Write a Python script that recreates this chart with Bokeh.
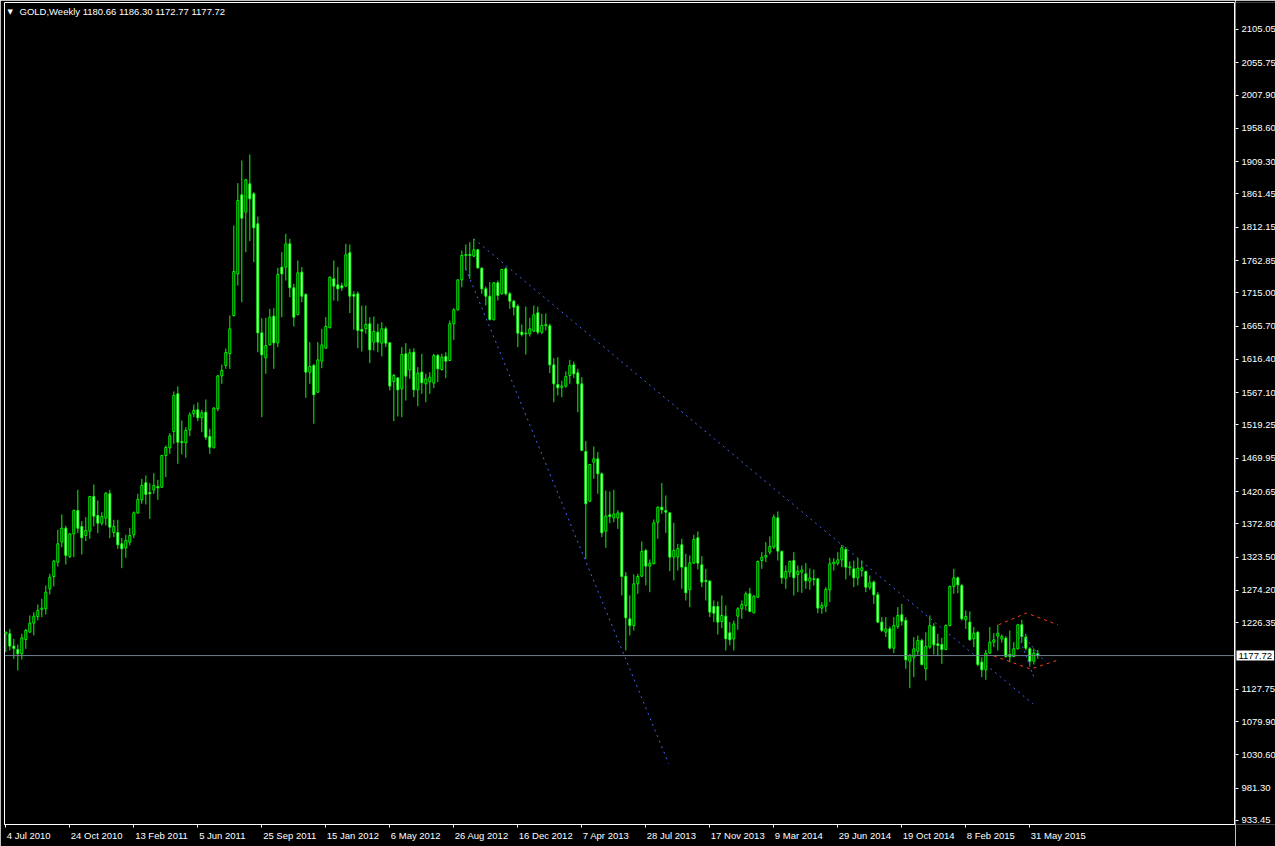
from bokeh.plotting import figure
from bokeh.layouts import row
from bokeh.models import Range1d, FixedTicker, Span, Label, ColumnDataSource, LinearAxis
from bokeh.embed import file_html
from bokeh.resources import INLINE

# ---------------- data (weekly GOLD, first bar = 4 Jul 2010) ----------------
opens = [1209.9, 1209.9, 1191.7, 1186.8, 1180.3, 1201.5, 1212.4, 1225.8, 1235.6, 1246.2,
         1247.0, 1276.6, 1294.8, 1316.0, 1345.7, 1366.4, 1324.5, 1358.0, 1392.5, 1368.9,
         1355.6, 1362.0, 1413.3, 1385.2, 1373.8, 1381.2, 1417.3, 1360.0, 1360.0, 1343.3,
         1337.3, 1345.7, 1356.6, 1388.7, 1408.4, 1433.6, 1419.3, 1423.2, 1428.1, 1427.1,
         1474.1, 1485.4, 1509.6, 1565.4, 1494.8, 1492.8, 1512.1, 1535.8, 1541.7, 1529.9,
         1538.2, 1502.2, 1485.4, 1543.2, 1592.0, 1607.4, 1625.0, 1681.4, 1743.0, 1860.1,
         1834.5, 1876.4, 1861.6, 1817.2, 1655.7, 1618.7, 1637.9, 1680.4, 1640.9, 1753.0,
         1753.0, 1787.5, 1722.4, 1682.9, 1745.6, 1712.5, 1597.5, 1607.4, 1567.8, 1613.8,
         1633.0, 1663.2, 1735.7, 1726.8, 1725.4, 1724.9, 1774.2, 1712.5, 1713.5, 1660.7,
         1661.7, 1669.1, 1641.9, 1656.7, 1640.4, 1661.7, 1640.9, 1583.6, 1589.0, 1572.8,
         1624.6, 1600.9, 1627.1, 1571.3, 1597.5, 1580.2, 1583.1, 1581.2, 1622.1, 1601.4,
         1620.7, 1614.8, 1669.1, 1689.8, 1734.2, 1770.3, 1771.8, 1769.3, 1778.7, 1751.5,
         1720.9, 1710.0, 1675.0, 1729.8, 1713.5, 1750.5, 1713.5, 1702.6, 1695.2, 1656.7,
         1655.2, 1654.3, 1658.2, 1685.4, 1656.7, 1666.1, 1666.1, 1608.3, 1579.2, 1575.0,
         1576.8, 1592.5, 1608.3, 1596.5, 1580.2, 1479.9, 1406.4, 1464.2, 1469.1, 1446.9,
         1362.0, 1386.2, 1381.7, 1381.7, 1389.1, 1295.3, 1232.1, 1222.3, 1284.0, 1295.3,
         1333.4, 1310.2, 1313.6, 1375.3, 1397.5, 1392.6, 1389.1, 1323.5, 1324.0, 1341.8,
         1308.7, 1275.1, 1314.6, 1352.1, 1312.1, 1288.9, 1288.0, 1250.4, 1250.4, 1228.2,
         1236.1, 1211.4, 1202.4, 1236.1, 1247.0, 1251.9, 1269.2, 1241.1, 1264.2, 1318.6,
         1323.5, 1330.9, 1338.3, 1381.7, 1331.9, 1292.4, 1301.3, 1318.5, 1297.8, 1301.3,
         1298.8, 1287.9, 1291.4, 1291.4, 1248.0, 1250.9, 1275.1, 1313.6, 1314.6, 1319.5,
         1334.8, 1307.7, 1306.2, 1292.9, 1303.7, 1302.2, 1279.0, 1286.5, 1267.7, 1227.2,
         1212.4, 1217.3, 1188.7, 1220.8, 1238.1, 1229.7, 1169.4, 1175.3, 1184.2, 1200.0,
         1158.1, 1190.2, 1220.8, 1195.1, 1194.1, 1186.7, 1222.3, 1280.0, 1292.9, 1281.5,
         1230.7, 1227.2, 1202.5, 1212.4, 1168.0, 1156.6, 1181.3, 1197.6, 1206.5, 1202.5,
         1203.5, 1179.3, 1176.3, 1187.7, 1223.3, 1205.0, 1187.7, 1169.4, 1180.66]
highs = [1213.0, 1217.3, 1202.5, 1194.0, 1209.9, 1217.3, 1237.1, 1242.0, 1253.4, 1261.8,
         1281.5, 1298.8, 1319.5, 1364.0, 1386.7, 1370.0, 1359.0, 1394.0, 1423.2, 1376.8,
         1382.7, 1414.3, 1431.1, 1407.4, 1390.1, 1419.7, 1423.2, 1378.8, 1378.8, 1352.1,
         1356.6, 1366.9, 1391.1, 1417.3, 1439.5, 1444.4, 1433.1, 1447.9, 1438.0, 1474.1,
         1488.9, 1507.1, 1568.9, 1576.3, 1525.9, 1516.0, 1538.2, 1549.6, 1552.6, 1541.7,
         1557.0, 1513.6, 1545.6, 1593.5, 1608.8, 1632.5, 1681.4, 1814.7, 1877.4, 1911.0,
         1883.8, 1919.9, 1864.0, 1828.0, 1677.4, 1677.9, 1691.3, 1692.3, 1752.0, 1775.2,
         1802.4, 1794.9, 1728.3, 1762.9, 1753.0, 1714.5, 1641.9, 1609.8, 1641.9, 1661.7,
         1678.9, 1739.2, 1762.9, 1753.0, 1730.0, 1787.5, 1786.6, 1717.4, 1716.9, 1696.2,
         1696.2, 1678.9, 1679.9, 1669.1, 1671.5, 1665.1, 1641.9, 1595.0, 1590.0, 1634.5,
         1640.4, 1632.0, 1633.0, 1604.9, 1624.6, 1595.0, 1597.5, 1624.6, 1624.6, 1624.6,
         1627.1, 1674.0, 1692.3, 1734.7, 1777.7, 1786.6, 1790.0, 1795.0, 1780.1, 1753.0,
         1724.4, 1730.8, 1730.8, 1733.2, 1750.5, 1753.0, 1716.0, 1704.6, 1698.0, 1668.1,
         1694.7, 1678.0, 1696.2, 1694.7, 1683.9, 1684.4, 1669.1, 1618.2, 1619.7, 1585.0,
         1598.5, 1615.7, 1613.3, 1602.4, 1590.0, 1495.3, 1461.7, 1487.4, 1479.0, 1448.9,
         1422.2, 1420.7, 1423.2, 1393.0, 1391.1, 1301.3, 1266.7, 1297.8, 1298.8, 1346.7,
         1335.8, 1320.0, 1379.2, 1398.5, 1433.1, 1414.8, 1390.1, 1374.3, 1343.2, 1350.6,
         1328.4, 1326.0, 1356.6, 1361.5, 1324.9, 1306.2, 1289.0, 1259.3, 1257.8, 1266.7,
         1251.9, 1227.2, 1229.5, 1249.4, 1259.3, 1272.6, 1278.0, 1266.7, 1318.6, 1330.9,
         1345.7, 1354.1, 1386.7, 1391.1, 1333.4, 1311.1, 1318.5, 1330.9, 1311.1, 1311.1,
         1314.6, 1306.7, 1305.2, 1292.4, 1256.8, 1279.0, 1322.5, 1322.0, 1330.9, 1341.7,
         1338.3, 1317.0, 1318.5, 1322.0, 1318.5, 1303.7, 1296.3, 1288.9, 1271.6, 1234.6,
         1234.6, 1220.8, 1234.6, 1249.4, 1254.3, 1234.6, 1180.3, 1205.0, 1207.5, 1202.5,
         1212.4, 1237.1, 1225.7, 1209.9, 1204.0, 1223.8, 1281.5, 1306.2, 1294.8, 1284.0,
         1244.5, 1243.0, 1219.8, 1213.4, 1175.3, 1186.2, 1219.8, 1210.9, 1223.3, 1209.0,
         1206.5, 1214.9, 1197.6, 1224.7, 1230.7, 1209.9, 1190.2, 1188.2, 1186.30]
lows = [1182.7, 1185.3, 1172.9, 1155.6, 1171.9, 1187.7, 1212.0, 1207.5, 1229.7, 1234.6,
        1238.6, 1268.2, 1280.0, 1309.6, 1338.3, 1312.6, 1322.0, 1323.5, 1359.0, 1327.4,
        1347.2, 1350.6, 1368.9, 1359.0, 1370.4, 1370.4, 1351.6, 1353.1, 1335.8, 1307.2,
        1322.5, 1340.8, 1351.6, 1388.0, 1402.5, 1401.5, 1380.2, 1417.3, 1408.4, 1426.0,
        1442.0, 1476.5, 1491.4, 1461.7, 1475.6, 1470.6, 1502.7, 1530.9, 1524.9, 1508.6,
        1497.3, 1476.5, 1484.9, 1539.7, 1580.2, 1602.4, 1602.4, 1679.9, 1725.8, 1701.1,
        1775.2, 1791.5, 1760.4, 1627.1, 1530.8, 1595.0, 1637.0, 1602.4, 1634.5, 1678.9,
        1733.2, 1708.5, 1665.1, 1681.4, 1701.1, 1559.4, 1580.2, 1521.0, 1566.9, 1603.4,
        1632.0, 1662.7, 1703.6, 1702.6, 1718.0, 1723.4, 1684.9, 1660.2, 1633.0, 1628.0,
        1654.3, 1610.8, 1629.5, 1627.1, 1620.7, 1634.5, 1570.3, 1524.9, 1531.8, 1530.8,
        1555.5, 1587.6, 1560.4, 1547.1, 1565.4, 1553.0, 1565.4, 1573.8, 1582.7, 1600.0,
        1588.6, 1613.8, 1645.4, 1688.8, 1723.4, 1749.1, 1735.7, 1767.8, 1750.5, 1713.5,
        1696.2, 1674.0, 1674.5, 1703.6, 1712.5, 1711.0, 1691.3, 1681.4, 1634.5, 1650.3,
        1623.6, 1650.3, 1656.7, 1653.3, 1654.0, 1659.2, 1596.0, 1553.0, 1562.9, 1560.4,
        1574.3, 1580.2, 1588.6, 1538.2, 1480.5, 1321.0, 1405.0, 1439.5, 1417.3, 1353.1,
        1337.3, 1373.8, 1375.3, 1365.4, 1266.7, 1185.3, 1207.5, 1214.9, 1269.2, 1293.9,
        1281.5, 1271.6, 1313.0, 1350.6, 1387.6, 1359.5, 1302.7, 1289.0, 1303.7, 1276.6,
        1259.3, 1249.4, 1313.6, 1305.2, 1279.0, 1259.3, 1234.6, 1227.2, 1208.9, 1218.3,
        1185.3, 1192.7, 1185.3, 1215.9, 1232.1, 1244.5, 1242.0, 1240.0, 1263.5, 1306.2,
        1316.1, 1327.4, 1335.8, 1318.5, 1284.0, 1276.6, 1293.9, 1266.7, 1271.6, 1270.6,
        1276.6, 1275.1, 1281.5, 1240.5, 1239.5, 1242.0, 1256.8, 1303.7, 1311.1, 1308.7,
        1290.4, 1296.3, 1279.0, 1281.5, 1294.8, 1271.6, 1275.1, 1254.3, 1225.7, 1212.4,
        1205.0, 1187.0, 1181.3, 1217.3, 1222.3, 1158.1, 1129.4, 1145.8, 1177.8, 1163.0,
        1140.8, 1187.7, 1179.3, 1177.8, 1165.5, 1185.7, 1220.8, 1269.2, 1270.1, 1229.7,
        1217.3, 1200.0, 1190.2, 1162.0, 1145.8, 1141.8, 1180.3, 1190.2, 1185.2, 1197.0,
        1174.4, 1167.9, 1175.3, 1186.7, 1197.6, 1185.2, 1163.0, 1164.5, 1172.77]
closes = [1212.4, 1191.7, 1188.2, 1180.3, 1204.0, 1214.9, 1225.8, 1236.1, 1244.5, 1247.9,
          1271.6, 1293.8, 1317.6, 1343.3, 1366.4, 1326.0, 1358.0, 1392.5, 1366.4, 1352.1,
          1363.0, 1413.3, 1384.2, 1373.8, 1383.7, 1418.3, 1367.9, 1368.9, 1341.8, 1335.8,
          1348.2, 1355.6, 1389.2, 1408.9, 1429.6, 1416.3, 1417.3, 1429.6, 1426.1, 1474.1,
          1485.9, 1503.2, 1562.9, 1493.8, 1493.3, 1511.1, 1534.3, 1540.7, 1529.9, 1537.3,
          1501.2, 1486.4, 1544.2, 1592.0, 1600.0, 1626.6, 1661.7, 1746.6, 1851.7, 1825.6,
          1882.4, 1854.2, 1811.2, 1655.7, 1623.1, 1636.9, 1678.9, 1640.9, 1742.1, 1743.1,
          1787.5, 1722.4, 1678.9, 1744.6, 1710.0, 1597.5, 1605.9, 1563.9, 1615.7, 1637.9,
          1665.1, 1738.2, 1724.9, 1720.9, 1722.4, 1771.3, 1710.0, 1710.0, 1659.2, 1658.2,
          1668.1, 1630.5, 1657.7, 1641.9, 1661.7, 1640.4, 1576.8, 1592.5, 1571.3, 1623.6,
          1591.5, 1626.1, 1571.3, 1596.0, 1581.7, 1587.6, 1590.0, 1622.1, 1602.4, 1619.7,
          1613.8, 1669.1, 1689.8, 1734.2, 1770.3, 1771.8, 1770.3, 1778.7, 1752.0, 1720.9,
          1710.0, 1675.5, 1729.8, 1711.0, 1749.5, 1713.5, 1702.6, 1693.7, 1655.2, 1653.3,
          1654.3, 1661.7, 1682.4, 1656.7, 1666.6, 1668.1, 1608.3, 1580.2, 1574.3, 1577.0,
          1591.0, 1607.4, 1595.0, 1580.2, 1481.5, 1402.5, 1460.7, 1469.1, 1446.9, 1359.5,
          1384.2, 1383.7, 1387.6, 1389.1, 1294.8, 1233.6, 1222.3, 1284.0, 1294.8, 1331.9,
          1310.2, 1314.6, 1374.3, 1397.5, 1393.6, 1390.1, 1323.5, 1333.4, 1336.0, 1308.7,
          1270.7, 1315.1, 1349.6, 1314.6, 1286.5, 1287.5, 1242.0, 1240.5, 1227.2, 1237.1,
          1202.5, 1201.0, 1224.6, 1247.0, 1253.4, 1269.2, 1243.0, 1265.7, 1317.1, 1323.5,
          1326.0, 1339.3, 1382.7, 1332.4, 1292.9, 1302.2, 1317.0, 1292.9, 1302.7, 1304.3,
          1288.4, 1292.4, 1290.4, 1248.0, 1252.0, 1275.6, 1313.6, 1316.1, 1319.5, 1337.3,
          1308.7, 1309.2, 1292.9, 1307.2, 1307.7, 1279.0, 1285.5, 1267.7, 1227.2, 1214.9,
          1217.3, 1188.7, 1222.3, 1237.1, 1228.7, 1171.4, 1177.8, 1187.7, 1200.0, 1164.5,
          1191.2, 1222.3, 1193.6, 1192.7, 1186.7, 1222.3, 1280.0, 1292.9, 1282.5, 1232.1,
          1235.6, 1201.0, 1210.9, 1164.5, 1156.6, 1181.3, 1197.6, 1201.0, 1210.9, 1205.9,
          1176.3, 1176.3, 1187.7, 1223.3, 1206.0, 1188.7, 1169.4, 1181.3, 1177.72]

# bottom axis: bar index of each date label and its text
date_tick_bars = [0, 16, 32, 48, 64, 80, 96, 112, 128, 144, 160, 176, 192, 208, 224, 240, 256]
date_tick_labels = ["4 Jul 2010", "24 Oct 2010", "13 Feb 2011", "5 Jun 2011", "25 Sep 2011",
                    "15 Jan 2012", "6 May 2012", "26 Aug 2012", "16 Dec 2012", "7 Apr 2013",
                    "28 Jul 2013", "17 Nov 2013", "9 Mar 2014", "29 Jun 2014", "19 Oct 2014",
                    "8 Feb 2015", "31 May 2015"]
# right axis price labels
price_ticks = [2105.05, 2055.75, 2007.90, 1958.60, 1909.30, 1861.45, 1812.15, 1762.85, 1715.00,
               1665.70, 1616.40, 1567.10, 1519.25, 1469.95, 1420.65, 1372.80, 1323.50, 1274.20,
               1226.35, 1127.75, 1079.90, 1030.60, 981.30, 933.45]

# drawn trend lines (bar index, price)
blue_long_bars = [117.0, 256.75]
blue_long_prices = [1795.0, 1106.3]
blue_steep_bars = [115.0, 165.7]
blue_steep_prices = [1750.6, 1017.8]
blue_short1_bars = [252.9, 257.0]
blue_short1_prices = [1212.3, 1145.7]
blue_short2_bars = [254.1, 259.75]
blue_short2_prices = [1209.0, 1168.9]
red_upper_bars = [248.2, 255.2, 263.0]
red_upper_prices = [1223.3, 1240.8, 1223.3]
red_lower_bars = [247.0, 256.2, 263.5]
red_lower_prices = [1177.1, 1157.8, 1171.9]

symbol_title = "GOLD,Weekly"

# ---------------- layout constants ----------------
TOTAL_W, TOTAL_H = 1275, 846
SCALE_W = 40                      # width of the price scale strip on the right
MAIN_W = TOTAL_W - SCALE_W
BORDER_L, BORDER_T, BORDER_B, BORDER_R = 4, 2, 22, 1
FRAME_W = MAIN_W - BORDER_L - BORDER_R
PX_PER_BAR = 4.0
X0 = -0.33
X1 = X0 + FRAME_W / PX_PER_BAR
Y0, Y1 = 927.5, 2145.0
FONT = "Liberation Sans"
FS_PX = 9.5
FS = f"{FS_PX}px"
GREEN = "#00ff00"
BLUE = "#3f64f0"
RED = "#ff3c14"

price_range = Range1d(Y0, Y1)

# ---------------- main chart ----------------
p = figure(width=MAIN_W, height=TOTAL_H, output_backend="svg", toolbar_location=None,
           x_range=Range1d(X0, X1), y_range=price_range,
           y_axis_location=None,
           background_fill_color="black", border_fill_color="black",
           outline_line_color="white", outline_line_width=1,
           min_border_left=BORDER_L, min_border_top=BORDER_T,
           min_border_bottom=BORDER_B, min_border_right=BORDER_R)
p.grid.visible = False

idx = list(range(len(opens)))
tops = [max(o, c) for o, c in zip(opens, closes)]
bots = [min(o, c) for o, c in zip(opens, closes)]
fills = ["black" if c >= o else "white" for o, c in zip(opens, closes)]
src = ColumnDataSource(dict(x=idx, o=opens, h=highs, l=lows, c=closes, top=tops, bottom=bots, fill=fills))

p.line(blue_steep_bars, blue_steep_prices, line_color=BLUE, line_width=1, line_dash="2 4")
p.line(blue_long_bars, blue_long_prices, line_color=BLUE, line_width=1, line_dash="2 4")

p.segment(x0="x", y0="h", x1="x", y1="l", source=src, line_color=GREEN, line_width=1)
p.vbar(x="x", width=0.5, top="top", bottom="bottom", source=src,
       fill_color="fill", line_color=GREEN, line_width=1)

p.line(blue_short1_bars, blue_short1_prices, line_color=BLUE, line_width=1, line_dash="2 3")
p.line(blue_short2_bars, blue_short2_prices, line_color=BLUE, line_width=1, line_dash="2 3")
p.line(red_upper_bars, red_upper_prices, line_color=RED, line_width=1, line_dash="3 4")
p.line(red_lower_bars, red_lower_prices, line_color=RED, line_width=1, line_dash="3 4")

last_close = closes[-1]
p.add_layout(Span(location=last_close, dimension="width", line_color="#708090", line_width=1))

# bottom date axis: tick marks (minor ticks) at the bars, labels left-aligned after them
ARIAL_W = {" ": 278, "J": 500, "u": 556, "l": 222, "O": 778, "c": 500, "t": 278, "F": 611,
           "e": 556, "b": 556, "n": 556, "S": 667, "p": 556, "a": 556, "M": 833, "y": 500,
           "A": 667, "g": 556, "D": 722, "r": 333, "N": 722, "o": 556, "v": 500, "d": 556}
def text_px(s):
    return sum(ARIAL_W.get(ch, 556) for ch in s) * FS_PX / 1000.0
label_pos = [round(b + (text_px(t) / 2.0 + 1.0) / PX_PER_BAR, 4)
             for b, t in zip(date_tick_bars, date_tick_labels)]

xa = p.xaxis[0]
xa.ticker = FixedTicker(ticks=label_pos, minor_ticks=date_tick_bars)
xa.major_label_overrides = dict(zip(label_pos, date_tick_labels))
xa.axis_line_color = "white"
xa.major_tick_line_color = None
xa.major_tick_in = 0
xa.major_tick_out = 3
xa.minor_tick_line_color = "white"
xa.minor_tick_in = 0
xa.minor_tick_out = 3
xa.major_label_standoff = 2
xa.major_label_text_color = "white"
xa.major_label_text_font = FONT
xa.major_label_text_font_size = FS

# header
p.add_layout(Label(x=X0, y=Y1, text="\u25bc", x_offset=3, y_offset=-5,
                   text_align="left", text_baseline="top",
                   text_color="white", text_font="DejaVu Sans", text_font_size="7px"))
p.add_layout(Label(x=X0, y=Y1, x_offset=15, y_offset=-3,
                   text=f"{symbol_title}  {opens[-1]:.2f} {highs[-1]:.2f} {lows[-1]:.2f} {closes[-1]:.2f}",
                   text_align="left", text_baseline="top",
                   text_color="white", text_font=FONT, text_font_size=FS))

# ---------------- price scale strip (same price range, frames aligned by the row) ----------------
s = figure(width=SCALE_W, height=TOTAL_H, output_backend="svg", toolbar_location=None,
           x_range=Range1d(0, 1), y_range=price_range,
           x_axis_location=None, y_axis_location=None,
           background_fill_color="black", border_fill_color="black",
           outline_line_color=None,
           min_border_left=0, min_border_right=0, min_border_top=BORDER_T, min_border_bottom=BORDER_B)
s.grid.visible = False

price_axis = LinearAxis(fixed_location=0, ticker=FixedTicker(ticks=price_ticks),
                        major_label_overrides={v: f"{v:.2f}" for v in price_ticks},
                        axis_line_color=None, major_tick_line_color="white",
                        minor_tick_line_color=None, major_tick_in=0, major_tick_out=3,
                        major_label_standoff=3, major_label_text_color="white",
                        major_label_text_font=FONT, major_label_text_font_size=FS)
s.add_layout(price_axis, "right")

s.add_layout(Label(x=0, y=last_close, x_offset=1, text=f"{last_close:.2f}",
                   text_align="left", text_baseline="middle",
                   text_color="black", text_font=FONT, text_font_size=FS,
                   background_fill_color="white", padding=2))

layout = row(p, s, spacing=0)
open("out.html", "w").write(file_html(layout, INLINE))
